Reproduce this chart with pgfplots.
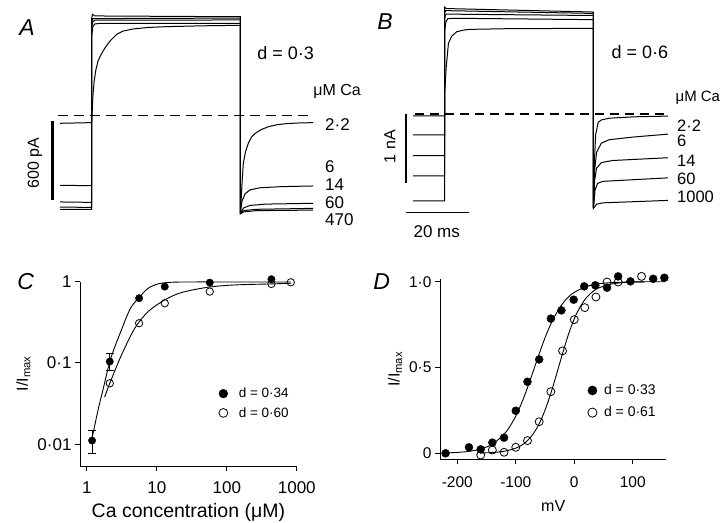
\documentclass[border=0pt]{standalone}
\usepackage{pgfplots}
\pgfplotsset{compat=1.18}
\usepackage{fontspec}
\setmainfont{Liberation Sans}
\newcommand{\fs}[1]{\fontsize{#1}{#1}\selectfont}
\pgfplotsset{
  trace/.style={black, line width=1pt, no markers},
  scalebar/.style={black, line width=2.2pt, no markers},
  fitline/.style={black, line width=0.9pt, no markers, forget plot, smooth, tension=0.5},
}
\begin{document}
\begin{tikzpicture}
\path[use as bounding box] (0,0) rectangle (720pt,-522pt);

% ---------------- Panel A ----------------
\begin{axis}[at={(60pt,-215.7pt)}, anchor=south west, scale only axis,
  width=256.4pt, height=206.7pt, xmin=0, xmax=81, ymin=-750, ymax=800,
  hide axis, clip=false]
\addplot[black, line width=1.5pt, dash pattern=on 10pt off 6pt] coordinates {(-0.6,0) (80,0)};
\addplot[trace] coordinates {(0,-57) (10,-52) (10.4,150) (10.8,260) (11.3,340) (12,410) (13,460) (14,500) (15,535) (16,565) (18,612) (20,635) (23,650) (28,662) (34,668) (45,674) (57,678)
 (57,-730) (57.3,-600) (57.6,-470) (57.9,-360) (58.6,-270) (59.5,-207) (60.5,-160) (61.7,-132) (63.5,-105) (65.8,-83) (68.5,-68) (71.4,-60) (75,-55) (80,-52)};
\addplot[trace] coordinates {(0,-522) (10,-525) (10,600) (10.4,670) (11,688) (13,693) (57,692) (57,-730) (57.5,-640) (58.5,-585) (60,-557) (63,-541) (70,-532) (80,-527)};
\addplot[trace] coordinates {(0,-647) (10,-650) (10,650) (10.3,705) (11,716) (57,718) (57,-730) (58,-692) (60,-673) (65,-663) (80,-657)};
\addplot[trace] coordinates {(0,-685) (10,-688) (10,700) (10.3,728) (57,732) (57,-732) (58,-712) (62,-702) (80,-695)};
\addplot[trace] coordinates {(0,-702) (10,-702) (10,730) (10.25,760) (11,748) (57,742) (57,-735) (58,-722) (62,-712) (80,-708)};
\addplot[scalebar, line width=2.6pt] coordinates {(-2.4,-40) (-2.4,-630)};
\node[font=\fs{23}\itshape] at (axis cs:-10.4,658) {A};
\node[font=\fs{18}] at (axis cs:71.3,470) {d = 0·3};
\node[font=\fs{16}, anchor=west, inner sep=0] at (axis cs:80,185) {μM Ca};
\node[font=\fs{17}, anchor=west, inner sep=0] at (axis cs:83.7,-70) {2·2};
\node[font=\fs{17}, anchor=west, inner sep=0] at (axis cs:83.7,-380) {6};
\node[font=\fs{17}, anchor=west, inner sep=0] at (axis cs:83.7,-515) {14};
\node[font=\fs{17}, anchor=west, inner sep=0] at (axis cs:83.7,-650) {60};
\node[font=\fs{17}, anchor=west, inner sep=0] at (axis cs:83.7,-780) {470};
\node[font=\fs{16}, rotate=90] at (axis cs:-7.9,-355) {600 pA};
\end{axis}

% ---------------- Panel B ----------------
\begin{axis}[at={(413pt,-218.1pt)}, anchor=south west, scale only axis,
  width=256.4pt, height=215.1pt, xmin=0, xmax=81, ymin=-1.5, ymax=1.6,
  hide axis, clip=false]
\addplot[black, line width=1.1pt, dash pattern=on 9pt off 6pt] coordinates {(0.5,0) (80.5,0)};
\addplot[trace] coordinates {(0,-0.025) (10,-0.025) (10,0.3) (10.5,0.68) (11.2,1.02) (12.2,1.12) (13.8,1.186) (16,1.21) (18,1.22) (30,1.23) (57,1.235)
 (57,-1.35) (57.3,-0.7) (57.7,-0.3) (58.5,-0.12) (59.5,-0.086) (62,-0.06) (70,-0.04) (80.5,-0.03)};
\addplot[trace] coordinates {(0,-0.30) (10,-0.30) (10,1.2) (10.4,1.33) (11,1.375) (13,1.38) (57,1.36) (57,-1.35) (57.4,-0.8) (58,-0.55) (59.5,-0.42) (62,-0.37) (70,-0.33) (80.5,-0.29)};
\addplot[trace] coordinates {(0,-0.60) (10,-0.60) (10,1.38) (10.4,1.44) (57,1.42) (57,-1.35) (57.4,-0.95) (58,-0.78) (59.5,-0.70) (63,-0.67) (80.5,-0.63)};
\addplot[trace] coordinates {(0,-0.89) (10,-0.89) (10,1.45) (10.3,1.49) (57,1.45) (57,-1.35) (57.5,-1.1) (58.3,-1.0) (60,-0.97) (80.5,-0.92)};
\addplot[trace] coordinates {(0,-1.25) (10,-1.25) (10,1.54) (10.5,1.52) (57,1.47) (57,-1.36) (58,-1.3) (60,-1.28) (80.5,-1.245)};
\addplot[scalebar, line width=1.8pt] coordinates {(-2.3,0) (-2.3,-1)};
\addplot[scalebar, line width=1.8pt] coordinates {(-2.2,-1.42) (17.8,-1.42)};
\node[font=\fs{23}\itshape] at (axis cs:-8.8,1.33) {B};
\node[font=\fs{18}] at (axis cs:71.7,0.898) {d = 0·6};
\node[font=\fs{15}, anchor=west, inner sep=0] at (axis cs:82.9,0.23) {μM Ca};
\node[font=\fs{16.5}, anchor=west, inner sep=0] at (axis cs:83.4,-0.17) {2·2};
\node[font=\fs{16.5}, anchor=west, inner sep=0] at (axis cs:83.4,-0.39) {6};
\node[font=\fs{16.5}, anchor=west, inner sep=0] at (axis cs:83.4,-0.675) {14};
\node[font=\fs{16.5}, anchor=west, inner sep=0] at (axis cs:83.4,-0.935) {60};
\node[font=\fs{16.5}, anchor=west, inner sep=0] at (axis cs:83.4,-1.19) {1000};
\node[font=\fs{16}, rotate=90] at (axis cs:-7.3,-0.47) {1 nA};
\node[font=\fs{17}] at (axis cs:7.5,-1.69) {20 ms};
\end{axis}

% ---------------- Panel C ----------------
\begin{axis}[at={(80pt,-466pt)}, anchor=south west, scale only axis,
  width=216.8pt, height=184.4pt,
  xmode=log, ymode=log, xmin=0.8, xmax=1000, ymin=0.0054, ymax=1,
  axis x line=bottom, axis y line=left, axis line style={-, line width=0.9pt},
  tick align=outside, major tick length=5pt, tick style={line width=0.9pt, black},
  xtick={1,10,100,1000}, xticklabels={1,10,100,1000},
  ytick={0.01,0.1,1}, yticklabels={0·01,0·1,1},
  xminorticks=false, yminorticks=false,
  ticklabel style={font=\fs{17}},
  xticklabel style={yshift=-7pt},
  xlabel={Ca concentration (μM)}, xlabel style={font=\fs{19.5}, yshift=-3pt},
  ylabel={I/I\textsubscript{max}}, ylabel style={font=\fs{16}},
  clip=false,
  legend image code/.code={\draw[#1, mark size=4.4pt] plot coordinates {(0pt,0pt)};},
  legend style={draw=none, fill=none, at={(0.64,0.435)}, anchor=north west, inner sep=0pt,
    font=\fs{13.5}, row sep=4pt, /tikz/every odd column/.append style={column sep=9pt}},
  legend cell align=left]
\addplot[fitline] coordinates {(1.19,0.0119) (1.45,0.0264) (1.76,0.0525) (2.13,0.104) (2.57,0.166) (3.13,0.255) (3.67,0.363) (4.35,0.493) (5.71,0.653) (7.52,0.828) (10.45,0.938) (16.2,0.982) (31.6,0.99) (100,0.99) (832,0.99)};
\addplot[fitline] coordinates {(1.8,0.038) (2.13,0.0562) (3.13,0.125) (4.85,0.267) (7.52,0.428) (13.0,0.596) (22.5,0.733) (54,0.853) (130,0.91) (434,0.937) (830,0.955)};
\addplot[forget plot, only marks, mark=none, black, error bars/.cd, y dir=both, y explicit,
  error bar style={line width=0.8pt, black},
  error mark options={rotate=90, mark size=4pt, line width=0.8pt, black}]
  coordinates {(1.19,0.0111) += (0,0.0036) -= (0,0.0034) (2.13,0.104) += (0,0.0275) -= (0,0.022)};
\addplot[only marks, mark=*, mark size=3.7pt, black] coordinates {(1.19,0.0111) (2.13,0.104) (5.59,0.625) (13.0,0.868) (57.1,0.972) (434,1.07)};
\addlegendentry{d = 0·34}
\addplot[only marks, mark=o, mark size=3.7pt, black, line width=0.8pt, mark options={fill=white}] coordinates {(2.13,0.0562) (5.59,0.308) (13.0,0.542) (57.1,0.754) (434,0.937) (820,0.98)};
\addlegendentry{d = 0·60}
\end{axis}
\node[font=\fs{23}\itshape] at (25.8pt,-282pt) {C};

% ---------------- Panel D ----------------
\begin{axis}[at={(440pt,-459.3pt)}, anchor=south west, scale only axis,
  width=226.4pt, height=180pt,
  xmin=-229.5, xmax=157.5, ymin=-0.035, ymax=1.014,
  axis x line=bottom, axis y line=left, axis line style={-, line width=0.9pt},
  tick align=outside, major tick length=5pt, tick style={line width=0.9pt, black},
  xtick={-200,-100,0,100}, xticklabels={-200,-100,0,100},
  ytick={0,0.5,1}, yticklabels={0,0·5,1·0},
  ticklabel style={font=\fs{15.5}},
  xticklabel style={yshift=-9pt},
  xlabel={mV}, xlabel style={font=\fs{16}, yshift=-6pt},
  ylabel={I/I\textsubscript{max}}, ylabel style={font=\fs{16}},
  clip=false,
  legend image code/.code={\draw[#1, mark size=4.6pt] plot coordinates {(0pt,0pt)};},
  legend style={draw=none, fill=none, at={(0.652,0.427)}, anchor=north west, inner sep=0pt,
    font=\fs{14}, row sep=6.5pt, /tikz/every odd column/.append style={column sep=5pt}},
  legend cell align=left]
\addplot[fitline] coordinates {(-220,0.0023) (-200,0.0051) (-180,0.0112) (-160,0.0246) (-140,0.053) (-120,0.111) (-110,0.157) (-100,0.217) (-90,0.293) (-80,0.382) (-70,0.480) (-60,0.579) (-50,0.673) (-40,0.754) (-30,0.820) (-20,0.872) (-10,0.911) (0,0.938) (20,0.971) (40,0.987) (60,0.994) (80,0.997) (100,0.999) (155,1.0)};
\addplot[fitline] coordinates {(-160,0.0018) (-140,0.0046) (-120,0.0118) (-100,0.030) (-90,0.047) (-80,0.074) (-70,0.114) (-60,0.172) (-50,0.251) (-40,0.350) (-30,0.464) (-20,0.582) (-10,0.692) (0,0.784) (10,0.853) (20,0.904) (30,0.938) (40,0.961) (60,0.984) (80,0.994) (100,0.998) (120,0.999)};
\addplot[only marks, mark=*, mark size=4pt, black] coordinates {(-220,0.0) (-180,0.035) (-160,0.023) (-140,0.062) (-120,0.091) (-100,0.248) (-80,0.417) (-60,0.547) (-40,0.785) (-22,0.833) (-1,0.895) (17,0.973) (36,0.979) (56,0.965) (75,1.031) (96,1.002) (135,1.017) (154,1.023)};
\addlegendentry{d = 0·33}
\addplot[only marks, mark=o, mark size=4pt, black, line width=0.8pt, mark options={fill=white}] coordinates {(-160,-0.01) (-140,0.019) (-120,0.006) (-100,0.035) (-80,0.074) (-60,0.184) (-40,0.359) (-20,0.597) (0,0.779) (18,0.849) (37,0.911) (56,0.998) (75,0.998) (115,1.031)};
\addlegendentry{d = 0·61}
\end{axis}
\node[font=\fs{23}\itshape] at (381.7pt,-281.7pt) {D};
\end{tikzpicture}
\end{document}
